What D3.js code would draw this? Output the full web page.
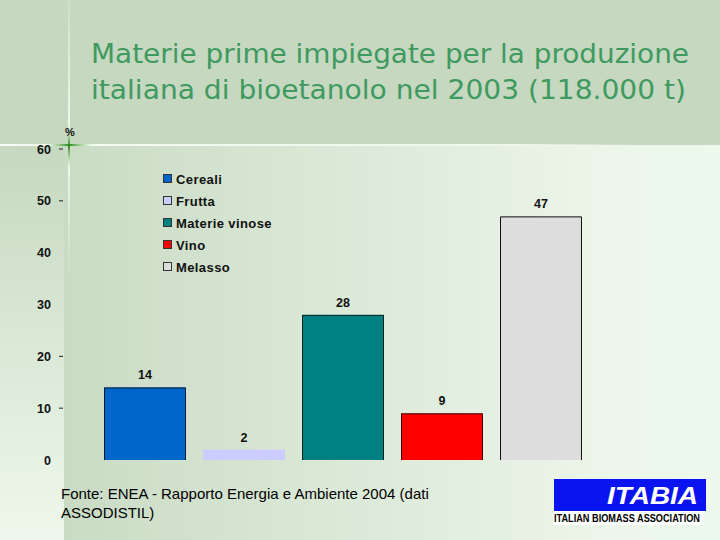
<!DOCTYPE html>
<html>
<head>
<meta charset="utf-8">
<script src="https://cdn.jsdelivr.net/npm/d3@7"></script>
<style>
  body { margin: 0; padding: 0; }
  svg { display: block; }
</style>
</head>
<body>
<div id="chart"></div>
<script>
const width = 720, height = 540;

// chart data
const categories = ["Cereali", "Frutta", "Materie vinose", "Vino", "Melasso"];
const values = [14, 2, 28, 9, 47];
const colors = ["#0066cc", "#ccccff", "#008080", "#ff0000", "#dddddd"];
const yTicks = [0, 10, 20, 30, 40, 50, 60];
const tickMarks = [10, 20, 50, 60];

const titleLines = [
    "Materie prime impiegate per la produzione",
    "italiana di bioetanolo nel 2003 (118.000 t)"
];
const sourceLines = [
    "Fonte: ENEA - Rapporto Energia e Ambiente 2004 (dati",
    "ASSODISTIL)"
];

let svg = d3.select('#chart')
    .append('svg')
      .attr('width', width)
      .attr('height', height);

// background gradients
const defs = svg.append('defs');
const hGrad = defs.append('linearGradient').attr('id', 'hgrad')
    .attr('x1', 0).attr('x2', 1).attr('y1', 0).attr('y2', 0);
hGrad.append('stop').attr('offset', '0%').attr('stop-color', '#c6d8c0');
hGrad.append('stop').attr('offset', '85%').attr('stop-color', '#ecf6ea');
hGrad.append('stop').attr('offset', '100%').attr('stop-color', '#eef9ee');

const vGrad = defs.append('linearGradient').attr('id', 'vgrad')
    .attr('x1', 0).attr('x2', 0).attr('y1', 0).attr('y2', 1);
vGrad.append('stop').attr('offset', '0%').attr('stop-color', '#c6d8c0');
vGrad.append('stop').attr('offset', '100%').attr('stop-color', '#eef8ec');

const lineGrad = defs.append('linearGradient').attr('id', 'linegrad')
    .attr('x1', 0).attr('x2', 1).attr('y1', 0).attr('y2', 0);
lineGrad.append('stop').attr('offset', '0%').attr('stop-color', '#f4fbf2');
lineGrad.append('stop').attr('offset', '80%').attr('stop-color', '#eef8ec');
lineGrad.append('stop').attr('offset', '100%').attr('stop-color', '#eef8ec').attr('stop-opacity', 0);

const vLineGrad = defs.append('linearGradient').attr('id', 'vlinegrad')
    .attr('x1', 0).attr('x2', 0).attr('y1', 0).attr('y2', 1);
vLineGrad.append('stop').attr('offset', '0%').attr('stop-color', '#cfdfca');
vLineGrad.append('stop').attr('offset', '50%').attr('stop-color', '#f4fbf2');
vLineGrad.append('stop').attr('offset', '100%').attr('stop-color', '#f4fbf2').attr('stop-opacity', 0);

const crossH = defs.append('linearGradient').attr('id', 'crossh')
    .attr('x1', 0).attr('x2', 1).attr('y1', 0).attr('y2', 0);
crossH.append('stop').attr('offset', '0%').attr('stop-color', '#8fd070').attr('stop-opacity', 0);
crossH.append('stop').attr('offset', '50%').attr('stop-color', '#2f8a1e');
crossH.append('stop').attr('offset', '100%').attr('stop-color', '#8fd070').attr('stop-opacity', 0);

const crossV = defs.append('linearGradient').attr('id', 'crossv')
    .attr('x1', 0).attr('x2', 0).attr('y1', 0).attr('y2', 1);
crossV.append('stop').attr('offset', '0%').attr('stop-color', '#8fd070').attr('stop-opacity', 0);
crossV.append('stop').attr('offset', '50%').attr('stop-color', '#2f8a1e');
crossV.append('stop').attr('offset', '100%').attr('stop-color', '#8fd070').attr('stop-opacity', 0);

svg.append('rect').attr('width', width).attr('height', height).attr('fill', 'url(#hgrad)');
svg.append('rect').attr('width', width).attr('height', 145).attr('fill', '#c6d8c0');
svg.append('rect').attr('x', 0).attr('y', 145).attr('width', 64).attr('height', height - 145)
    .attr('fill', 'url(#vgrad)');

// decorative lines and cross
svg.append('rect').attr('x', 0).attr('y', 144).attr('width', 640).attr('height', 2)
    .attr('fill', 'url(#linegrad)');
svg.append('rect').attr('x', 68).attr('y', 0).attr('width', 2).attr('height', 280)
    .attr('fill', 'url(#vlinegrad)');
svg.append('rect').attr('x', 45).attr('y', 144).attr('width', 48).attr('height', 2)
    .attr('fill', 'url(#crossh)');
svg.append('rect').attr('x', 68).attr('y', 124).attr('width', 2).attr('height', 44)
    .attr('fill', 'url(#crossv)');

// title
svg.append('g').selectAll('text')
    .data(titleLines)
    .enter()
    .append('text')
      .attr('x', 91)
      .attr('y', (d, i) => 63 + i * 36)
      .attr('font-family', 'DejaVu Sans, sans-serif')
      .attr('font-stretch', 'condensed')
      .attr('font-size', 26)
      .attr('fill', '#3f9a60')
      .attr('textLength', (d, i) => i === 0 ? 598 : 595)
      .attr('lengthAdjust', 'spacingAndGlyphs')
      .text(d => d);

// scales
const x = d3.scaleBand()
    .domain(categories)
    .range([95.5, 590.5])
    .paddingInner(0.172)
    .paddingOuter(0.086);

const y = d3.scaleLinear()
    .domain([0, 60])
    .range([460, 149]);

// y axis labels
const axis = svg.append('g').attr('class', 'y-axis');
axis.selectAll('text')
    .data(yTicks)
    .enter()
    .append('text')
      .attr('x', 51)
      .attr('y', d => y(d))
      .attr('dy', '0.36em')
      .attr('text-anchor', 'end')
      .attr('font-family', 'Liberation Sans, Arial, sans-serif')
      .attr('font-weight', 'bold')
      .attr('font-size', 12.5)
      .attr('fill', '#111')
      .text(d => d);

axis.selectAll('line')
    .data(tickMarks)
    .enter()
    .append('line')
      .attr('x1', 59).attr('x2', 63)
      .attr('y1', d => y(d)).attr('y2', d => y(d))
      .attr('stroke', '#222')
      .attr('stroke-width', 1);

svg.append('text')
    .attr('x', 65).attr('y', 136)
    .attr('font-family', 'Liberation Sans, Arial, sans-serif')
    .attr('font-weight', 'bold')
    .attr('font-size', 11)
    .attr('fill', '#111')
    .text('%');

// bars
const bars = svg.append('g').selectAll('g')
    .data(categories)
    .enter()
    .append('g');

bars.append('rect')
    .attr('x', d => x(d))
    .attr('y', (d, i) => y(values[i]))
    .attr('width', x.bandwidth())
    .attr('height', (d, i) => y(0) - y(values[i]))
    .attr('fill', (d, i) => colors[i]);

// outline: top and sides (no bottom), not on the light lavender bar
bars.filter((d, i) => i !== 1)
    .append('path')
    .attr('d', (d, i) => {
        const idx = categories.indexOf(d);
        const x0 = x(d) + 0.5, x1 = x(d) + x.bandwidth() - 0.5;
        const yt = y(values[idx]) + 0.5, yb = y(0);
        return `M${x0},${yb}V${yt}H${x1}V${yb}`;
    })
    .attr('fill', 'none')
    .attr('stroke', (d) => categories.indexOf(d) === 4 ? '#111' : 'rgba(0,0,0,0.75)')
    .attr('stroke-width', 1);

bars.append('text')
    .attr('x', d => x(d) + x.bandwidth() / 2)
    .attr('y', (d, i) => y(values[i]) - 8)
    .attr('text-anchor', 'middle')
    .attr('font-family', 'Liberation Sans, Arial, sans-serif')
    .attr('font-weight', 'bold')
    .attr('font-size', 12.5)
    .attr('fill', '#111')
    .text((d, i) => values[i]);

// legend
const legend = svg.append('g').selectAll('g')
    .data(categories)
    .enter()
    .append('g')
      .attr('transform', (d, i) => `translate(163, ${174 + i * 22})`);

legend.append('rect')
    .attr('x', 0.5).attr('y', 0.5)
    .attr('width', 8).attr('height', 8)
    .attr('fill', (d, i) => colors[i])
    .attr('stroke', '#333')
    .attr('stroke-width', 1);

legend.append('text')
    .attr('x', 13)
    .attr('y', 9.5)
    .attr('font-family', 'Liberation Sans, Arial, sans-serif')
    .attr('font-weight', 'bold')
    .attr('font-size', 13)
    .attr('letter-spacing', 0.4)
    .attr('fill', '#111')
    .text(d => d);

// source
svg.append('g').selectAll('text')
    .data(sourceLines)
    .enter()
    .append('text')
      .attr('x', 61)
      .attr('y', (d, i) => 499 + i * 19)
      .attr('font-family', 'Liberation Sans, Arial, sans-serif')
      .attr('font-size', 15)
      .attr('fill', '#000')
      .text(d => d);

// logo
const logo = svg.append('g');
logo.append('rect').attr('x', 554).attr('y', 479).attr('width', 152).attr('height', 32)
    .attr('fill', '#0a14f0');
logo.append('rect').attr('x', 553).attr('y', 511).attr('width', 151).attr('height', 14)
    .attr('fill', '#ffffff');
logo.append('text')
    .attr('x', 607).attr('y', 504)
    .attr('font-family', 'Liberation Sans, Arial, sans-serif')
    .attr('font-weight', 'bold')
    .attr('font-style', 'italic')
    .attr('font-size', 24)
    .attr('textLength', 91)
    .attr('lengthAdjust', 'spacingAndGlyphs')
    .attr('fill', '#fff')
    .text('ITABIA');
logo.append('text')
    .attr('x', 554).attr('y', 522)
    .attr('font-family', 'Liberation Sans Narrow, Liberation Sans, Arial, sans-serif')
    .attr('font-weight', 'bold')
    .attr('font-size', 10)
    .attr('textLength', 146)
    .attr('lengthAdjust', 'spacingAndGlyphs')
    .attr('fill', '#000')
    .text('ITALIAN BIOMASS ASSOCIATION');
</script>
</body>
</html>
